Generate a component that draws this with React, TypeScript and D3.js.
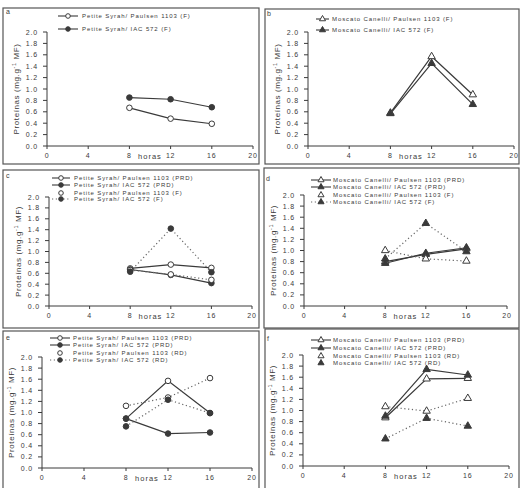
import React from "react";
import * as d3 from "d3";

const hours = [8, 12, 16];
const xTicks = [0, 4, 8, 12, 16, 20];
const yTicks = [0, 0.2, 0.4, 0.6, 0.8, 1.0, 1.2, 1.4, 1.6, 1.8, 2.0];
const panelLetters = ["a", "b", "c", "d", "e", "f"];

// Panel a – Petite Syrah (F)
const aPaulsenF = [0.67, 0.48, 0.39];
const aIacF = [0.85, 0.82, 0.68];
// Panel b – Moscato Canelli (F)
const bPaulsenF = [0.58, 1.57, 0.9];
const bIacF = [0.57, 1.45, 0.73];
// Panel c – Petite Syrah PRD vs F
const cPaulsenPRD = [0.69, 0.76, 0.7];
const cIacPRD = [0.67, 0.57, 0.42];
const cPaulsenF = [0.66, 0.58, 0.48];
const cIacF = [0.63, 1.42, 0.62];
// Panel d – Moscato Canelli PRD vs F
const dPaulsenPRD = [0.8, 0.93, 1.03];
const dIacPRD = [0.77, 0.95, 1.05];
const dPaulsenF = [1.0, 0.85, 0.81];
const dIacF = [0.85, 1.49, 0.98];
// Panel e – Petite Syrah PRD vs RD
const ePaulsenPRD = [0.89, 1.57, 0.99];
const eIacPRD = [0.89, 0.62, 0.64];
const ePaulsenRD = [1.12, 1.27, 1.62];
const eIacRD = [0.75, 1.23, 0.99];
// Panel f – Moscato Canelli PRD vs RD
const fPaulsenPRD = [0.87, 1.57, 1.58];
const fIacPRD = [0.9, 1.74, 1.64];
const fPaulsenRD = [1.07, 0.99, 1.22];
const fIacRD = [0.49, 0.86, 0.72];

type Series = {
  label: string;
  values: number[];
  marker: "circle" | "triangle";
  filled: boolean;
  dotted: boolean;
  legendLine: boolean;
};

const PS = "Petite Syrah/ ";
const MC = "Moscato Canelli/ ";

const panelSeries: Series[][] = [
  [
    { label: PS + "Paulsen 1103 (F)", values: aPaulsenF, marker: "circle", filled: false, dotted: false, legendLine: true },
    { label: PS + "IAC 572 (F)", values: aIacF, marker: "circle", filled: true, dotted: false, legendLine: true },
  ],
  [
    { label: MC + "Paulsen 1103 (F)", values: bPaulsenF, marker: "triangle", filled: false, dotted: false, legendLine: true },
    { label: MC + "IAC 572 (F)", values: bIacF, marker: "triangle", filled: true, dotted: false, legendLine: true },
  ],
  [
    { label: PS + "Paulsen 1103 (PRD)", values: cPaulsenPRD, marker: "circle", filled: false, dotted: false, legendLine: true },
    { label: PS + "IAC 572 (PRD)", values: cIacPRD, marker: "circle", filled: true, dotted: false, legendLine: true },
    { label: PS + "Paulsen 1103 (F)", values: cPaulsenF, marker: "circle", filled: false, dotted: true, legendLine: false },
    { label: PS + "IAC 572 (F)", values: cIacF, marker: "circle", filled: true, dotted: true, legendLine: true },
  ],
  [
    { label: MC + "Paulsen 1103 (PRD)", values: dPaulsenPRD, marker: "triangle", filled: false, dotted: false, legendLine: true },
    { label: MC + "IAC 572 (PRD)", values: dIacPRD, marker: "triangle", filled: true, dotted: false, legendLine: true },
    { label: MC + "Paulsen 1103 (F)", values: dPaulsenF, marker: "triangle", filled: false, dotted: true, legendLine: false },
    { label: MC + "IAC 572 (F)", values: dIacF, marker: "triangle", filled: true, dotted: true, legendLine: true },
  ],
  [
    { label: PS + "Paulsen 1103 (PRD)", values: ePaulsenPRD, marker: "circle", filled: false, dotted: false, legendLine: true },
    { label: PS + "IAC 572 (PRD)", values: eIacPRD, marker: "circle", filled: true, dotted: false, legendLine: true },
    { label: PS + "Paulsen 1103 (RD)", values: ePaulsenRD, marker: "circle", filled: false, dotted: true, legendLine: false },
    { label: PS + "IAC 572 (RD)", values: eIacRD, marker: "circle", filled: true, dotted: true, legendLine: true },
  ],
  [
    { label: MC + "Paulsen 1103 (PRD)", values: fPaulsenPRD, marker: "triangle", filled: false, dotted: false, legendLine: true },
    { label: MC + "IAC 572 (PRD)", values: fIacPRD, marker: "triangle", filled: true, dotted: false, legendLine: true },
    { label: MC + "Paulsen 1103 (RD)", values: fPaulsenRD, marker: "triangle", filled: false, dotted: true, legendLine: false },
    { label: MC + "IAC 572 (RD)", values: fIacRD, marker: "triangle", filled: true, dotted: true, legendLine: false },
  ],
];

// layout: frame box, axis pixel extents, legend placement
const layouts = [
  { box: [3, 8, 259, 164], x: [47, 253], y: [146, 32], leg: { x1: 58, x2: 78, tx: 82, y: [16, 29] }, letter: [6, 14] },
  { box: [265, 9, 519, 164], x: [308, 514], y: [146, 32], leg: { x1: 316, x2: 329, tx: 332, y: [19, 30] }, letter: [267, 16] },
  { box: [3, 170, 259, 328], x: [49, 252], y: [306, 197], leg: { x1: 52, x2: 70, tx: 74, y: [178, 185, 193, 199] }, letter: [6, 178] },
  { box: [264, 168, 519, 328], x: [304, 507], y: [306, 195], leg: { x1: 311, x2: 331, tx: 333, y: [180, 187, 195, 202] }, letter: [266, 181] },
  { box: [3, 331, 259, 492], x: [42, 252], y: [468, 357], leg: { x1: 50, x2: 70, tx: 73, y: [338, 345, 353, 360] }, letter: [6, 340] },
  { box: [265, 329, 519, 492], x: [303, 509], y: [466, 355], leg: { x1: 311, x2: 331, tx: 333, y: [340, 348, 356, 363] }, letter: [267, 341] },
];

const INK = "#3a3a3a";
const FONT = "'Liberation Sans', Arial, sans-serif";

function Marker({ cx, cy, s, small }: { cx: number; cy: number; s: Series; small?: boolean }) {
  const fill = s.filled ? INK : "#ffffff";
  if (s.marker === "circle") {
    return <circle cx={cx} cy={cy} r={small ? 2.3 : 2.8} fill={fill} stroke={INK} strokeWidth={1} />;
  }
  const tri = d3.symbol().type(d3.symbolTriangle).size(small ? 16 : 24)();
  return <path d={tri || ""} transform={`translate(${cx},${cy})`} fill={fill} stroke={INK} strokeWidth={1} />;
}

function Panel({ idx }: { idx: number }) {
  const L = layouts[idx];
  const series = panelSeries[idx];
  const x = d3.scaleLinear().domain([0, 20]).range(L.x);
  const y = d3.scaleLinear().domain([0, 2]).range(L.y);
  const line = d3
    .line<number>()
    .x((_, i) => x(hours[i]))
    .y((v) => y(v));
  const fmt = d3.format(".1f");
  const [bx1, by1, bx2, by2] = L.box;
  const x0 = x(0);
  const y0 = y(0);
  const midY = (y(0) + y(2)) / 2;
  return (
    <g>
      <rect x={bx1} y={by1} width={bx2 - bx1} height={by2 - by1} fill="none" stroke="#555" strokeWidth={1.2} />
      <text x={L.letter[0]} y={L.letter[1]} fontSize={7} fill={INK} fontFamily={FONT}>
        {panelLetters[idx]}
      </text>
      {/* y axis */}
      <line x1={x0} x2={x0} y1={y0} y2={y(2)} stroke={INK} strokeWidth={1} />
      {yTicks.map((t) => (
        <g key={"y" + t}>
          <line x1={x0 - 4} x2={x0} y1={y(t)} y2={y(t)} stroke={INK} strokeWidth={1} />
          <text x={x0 - 9} y={y(t) + 2.5} fontSize={7} textAnchor="end" fill={INK} fontFamily={FONT} letterSpacing={0.8}>
            {fmt(t)}
          </text>
        </g>
      ))}
      {/* x axis */}
      <line x1={x0} x2={x(20)} y1={y0} y2={y0} stroke={INK} strokeWidth={1} />
      {xTicks.map((t) => (
        <g key={"x" + t}>
          <line x1={x(t)} x2={x(t)} y1={y0} y2={y0 + 3} stroke={INK} strokeWidth={1} />
          <text x={x(t)} y={y0 + 12} fontSize={7} textAnchor="middle" fill={INK} fontFamily={FONT} letterSpacing={0.8}>
            {t}
          </text>
        </g>
      ))}
      <text x={(x(8) + x(12)) / 2} y={y0 + 13} fontSize={7.5} textAnchor="middle" fill={INK} fontFamily={FONT} letterSpacing={1}>
        horas
      </text>
      {/* y label */}
      <text
        transform={`translate(${x0 - 28},${midY}) rotate(-90)`}
        fontSize={8}
        textAnchor="middle"
        fill={INK}
        fontFamily={FONT}
        letterSpacing={0.6}
      >
        Proteínas (mg.g
        <tspan dy={-3} fontSize={5.5}>
          -1
        </tspan>
        <tspan dy={3}> MF)</tspan>
      </text>
      {/* lines */}
      {series.map((s, i) => (
        <path
          key={"l" + i}
          d={line(s.values) || ""}
          fill="none"
          stroke={s.dotted ? "#666" : INK}
          strokeWidth={1.2}
          strokeDasharray={s.dotted ? "1.2,2.6" : undefined}
        />
      ))}
      {series.map((s, i) =>
        s.values.map((v, j) => <Marker key={"m" + i + "-" + j} cx={x(hours[j])} cy={y(v)} s={s} />)
      )}
      {/* legend */}
      {series.map((s, i) => {
        const ly = L.leg.y[i];
        return (
          <g key={"lg" + i}>
            {s.legendLine && (
              <line
                x1={L.leg.x1}
                x2={L.leg.x2}
                y1={ly}
                y2={ly}
                stroke={s.dotted ? "#666" : INK}
                strokeWidth={1.1}
                strokeDasharray={s.dotted ? "1.2,2.6" : undefined}
              />
            )}
            <Marker cx={(L.leg.x1 + L.leg.x2) / 2} cy={ly} s={s} small />
            <text x={L.leg.tx} y={ly + 2.3} fontSize={6} fill={INK} fontFamily={FONT} letterSpacing={0.9}>
              {s.label}
            </text>
          </g>
        );
      })}
    </g>
  );
}

export default function App() {
  return (
    <svg
      width={522}
      height={488}
      style={{ position: "absolute", left: 0, top: 0, background: "#ffffff" }}
    >
      {layouts.map((_, i) => (
        <Panel key={i} idx={i} />
      ))}
    </svg>
  );
}
